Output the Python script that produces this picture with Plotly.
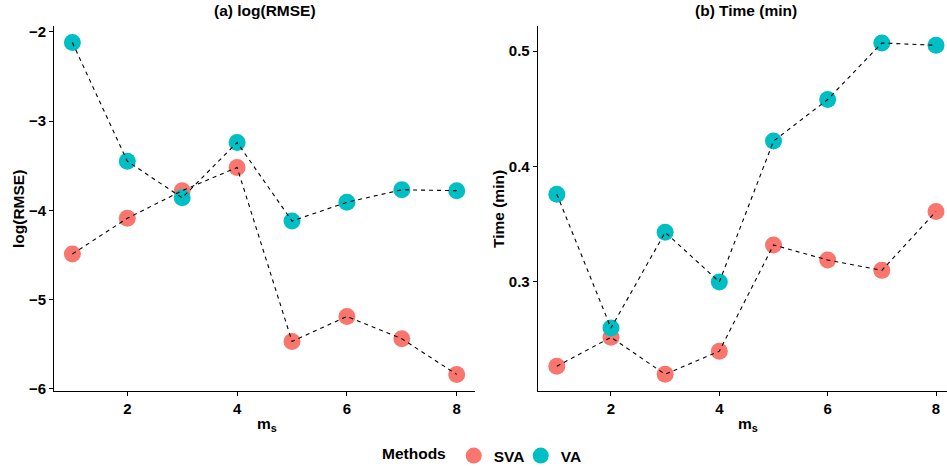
import plotly.graph_objects as go

# Number of inducing points m_s
ms = [1, 2, 3, 4, 5, 6, 7, 8]

# Panel (a): log(RMSE) per method
rmse_sva = [-4.49, -4.09, -3.78, -3.52, -5.47, -5.19, -5.44, -5.84]
rmse_va = [-2.12, -3.45, -3.86, -3.24, -4.12, -3.91, -3.77, -3.78]

# Panel (b): run time in minutes per method
time_sva = [0.227, 0.252, 0.220, 0.240, 0.332, 0.319, 0.310, 0.361]
time_va = [0.376, 0.260, 0.343, 0.300, 0.422, 0.458, 0.507, 0.505]

methods = ["SVA", "VA"]
colors = {"SVA": "#F8766D", "VA": "#00BFC4"}

W, H = 947, 467
FONT = "Liberation Sans, Arial, sans-serif"

fig = go.Figure()

panels = [
    ("x", "y", {"SVA": rmse_sva, "VA": rmse_va}),
    ("x2", "y2", {"SVA": time_sva, "VA": time_va}),
]

# points first, then the dashed connecting lines on top
for i, (xa, ya, data) in enumerate(panels):
    for m in methods:
        fig.add_trace(go.Scatter(
            x=ms, y=data[m], mode="markers", xaxis=xa, yaxis=ya,
            marker=dict(color=colors[m], size=17, line=dict(width=0)),
            name=m, legendgroup=m, showlegend=(i == 0),
        ))
for xa, ya, data in panels:
    for m in methods:
        fig.add_trace(go.Scatter(
            x=ms, y=data[m], mode="lines", xaxis=xa, yaxis=ya,
            line=dict(color="black", width=1.1, dash="4px,4px"),
            showlegend=False, hoverinfo="skip",
        ))

def px_x(p):
    return p / W

def px_y(p):
    return 1 - p / H

y_dom = [px_y(391), px_y(26)]
tickfont = dict(family=FONT, size=15, color="black", weight=700)
axis_common = dict(
    showgrid=False, zeroline=False, showline=True, linecolor="black",
    linewidth=1, ticks="outside", ticklen=4, tickwidth=1, tickcolor="black",
    tickfont=tickfont, mirror=False, automargin=False,
)

fig.update_layout(
    width=W, height=H,
    margin=dict(l=0, r=0, t=0, b=0, autoexpand=False),
    paper_bgcolor="white", plot_bgcolor="white",
    font=dict(family=FONT, color="black"),
    xaxis=dict(domain=[px_x(54), px_x(475)], range=[0.665, 8.333],
               tickvals=[2, 4, 6, 8], anchor="y", **axis_common),
    yaxis=dict(domain=y_dom, range=[-6.026, -1.934],
               tickvals=[-6, -5, -4, -3, -2], anchor="x", **axis_common),
    xaxis2=dict(domain=[px_x(537.7), 1.0], range=[0.647, 8.203],
                tickvals=[2, 4, 6, 8], anchor="y2", **axis_common),
    yaxis2=dict(domain=y_dom, range=[0.2055, 0.5217],
                tickvals=[0.3, 0.4, 0.5], tickformat=".1f", anchor="x2",
                **axis_common),
    showlegend=True,
    legend=dict(
        orientation="h", x=px_x(380), y=px_y(456), xanchor="left",
        yanchor="middle", font=dict(family=FONT, size=15.5, color="black", weight=700),
        title=dict(text="Methods", font=dict(family=FONT, size=15.5, color="black", weight=700)),
        itemwidth=30, entrywidth=22, entrywidthmode="pixels",
        tracegroupgap=0, bgcolor="rgba(0,0,0,0)",
    ),
)

title_font = dict(family=FONT, size=15.5, color="black", weight=700)
annots = [
    dict(text="(a) log(RMSE)", x=px_x(264.5), y=px_y(10)),
    dict(text="(b) Time (min)", x=px_x(746), y=px_y(10)),
    dict(text="m<sub>s</sub>", x=px_x(267), y=px_y(424)),
    dict(text="m<sub>s</sub>", x=px_x(748), y=px_y(424)),
]
for a in annots:
    fig.add_annotation(xref="paper", yref="paper", showarrow=False,
                       xanchor="center", yanchor="middle", font=title_font, **a)
fig.add_annotation(text="log(RMSE)", xref="paper", yref="paper", x=px_x(18),
                   y=px_y(209), textangle=-90, showarrow=False,
                   xanchor="center", yanchor="middle", font=title_font)
fig.add_annotation(text="Time (min)", xref="paper", yref="paper", x=px_x(498),
                   y=px_y(209), textangle=-90, showarrow=False,
                   xanchor="center", yanchor="middle", font=title_font)

fig.write_html("out.html")
